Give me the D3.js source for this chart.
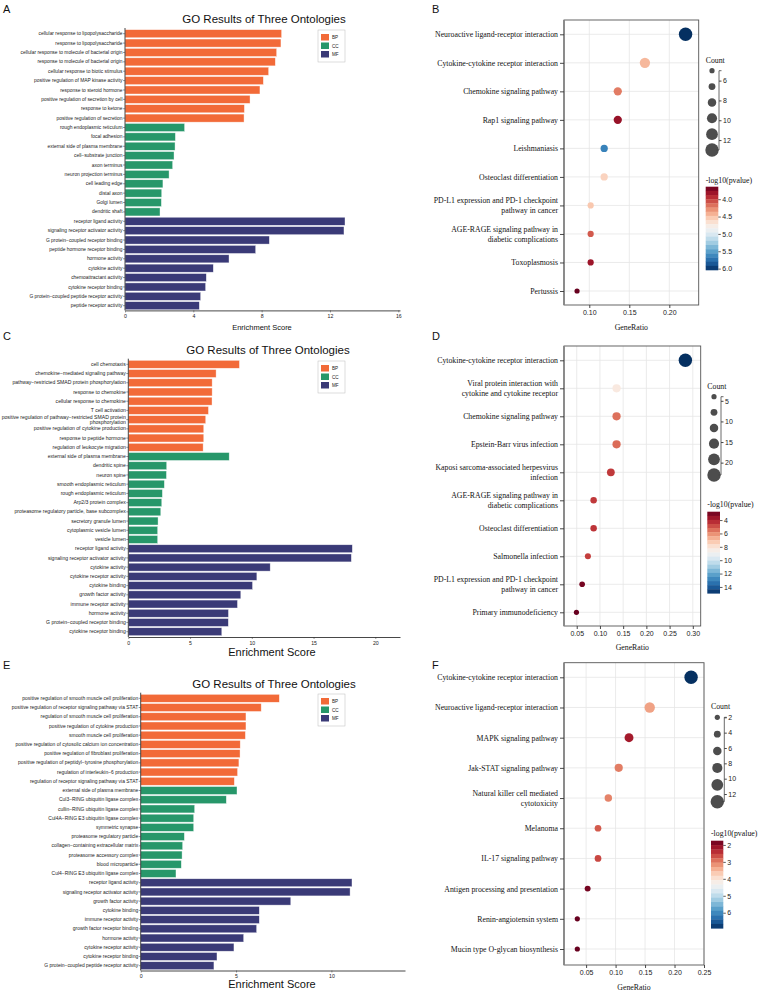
<!DOCTYPE html>
<html><head><meta charset="utf-8">
<script src="https://cdn.jsdelivr.net/npm/d3@7"></script>
<style>body{margin:0;background:#fff}svg{display:block}</style>
</head><body>
<svg id="c" width="760" height="992"></svg>
<script>
// ---------------- DATA ----------------
const ontologyNames = ["BP", "CC", "MF"];
const barTitle = "GO Results of Three Ontologies";

const termsA = [
 "cellular response to lipopolysaccharide","response to lipopolysaccharide","cellular response to molecule of bacterial origin","response to molecule of bacterial origin","cellular response to biotic stimulus","positive regulation of MAP kinase activity","response to steroid hormone","positive regulation of secretion by cell","response to ketone","positive regulation of secretion",
 "rough endoplasmic reticulum","focal adhesion","external side of plasma membrane","cell\u2212substrate junction","axon terminus","neuron projection terminus","cell leading edge","distal axon","Golgi lumen","dendritic shaft",
 "receptor ligand activity","signaling receptor activator activity","G protein\u2212coupled receptor binding","peptide hormone receptor binding","hormone activity","cytokine activity","chemoattractant activity","cytokine receptor binding","G protein\u2212coupled peptide receptor activity","peptide receptor activity"];
const scoresA = [9.17,9.13,8.88,8.80,8.41,8.10,7.90,7.32,6.99,6.97, 3.49,2.95,2.93,2.87,2.79,2.58,2.22,2.15,2.13,2.05, 12.88,12.82,8.45,7.65,6.09,5.17,4.76,4.72,4.43,4.35];
const ontA = ["BP","BP","BP","BP","BP","BP","BP","BP","BP","BP","CC","CC","CC","CC","CC","CC","CC","CC","CC","CC","MF","MF","MF","MF","MF","MF","MF","MF","MF","MF"];

const termsC = [
 "cell chemotaxis","chemokine\u2212mediated signaling pathway","pathway\u2212restricted SMAD protein phosphorylation","response to chemokine","cellular response to chemokine","T cell activation","positive regulation of pathway\u2212restricted SMAD protein\nphosphorylation","positive regulation of cytokine production","response to peptide hormone","regulation of leukocyte migration",
 "external side of plasma membrane","dendritic spine","neuron spine","smooth endoplasmic reticulum","rough endoplasmic reticulum","Arp2/3 protein complex","proteasome regulatory particle, base subcomplex","secretory granule lumen","cytoplasmic vesicle lumen","vesicle lumen",
 "receptor ligand activity","signaling receptor activator activity","cytokine activity","cytokine receptor activity","cytokine binding","growth factor activity","immune receptor activity","hormone activity","G protein\u2212coupled receptor binding","cytokine receptor binding"];
const scoresC = [9.00,7.11,6.79,6.79,6.78,6.49,6.27,6.11,6.11,6.06, 8.17,3.11,3.09,2.92,2.76,2.71,2.63,2.41,2.38,2.38, 18.14,18.06,11.49,10.41,10.06,9.11,8.84,8.11,8.10,7.57];
const ontC = ["BP","BP","BP","BP","BP","BP","BP","BP","BP","BP","CC","CC","CC","CC","CC","CC","CC","CC","CC","CC","MF","MF","MF","MF","MF","MF","MF","MF","MF","MF"];

const termsE = [
 "positive regulation of smooth muscle cell proliferation","positive regulation of receptor signaling pathway via STAT","regulation of smooth muscle cell proliferation","positive regulation of cytokine production","smooth muscle cell proliferation","positive regulation of cytosolic calcium ion concentration","positive regulation of fibroblast proliferation","positive regulation of peptidyl\u2212tyrosine phosphorylation","regulation of interleukin\u22126 production","regulation of receptor signaling pathway via STAT",
 "external side of plasma membrane","Cul3\u2212RING ubiquitin ligase complex","cullin\u2212RING ubiquitin ligase complex","Cul4A\u2212RING E3 ubiquitin ligase complex","symmetric synapse","proteasome regulatory particle","collagen\u2212containing extracellular matrix","proteasome accessory complex","blood microparticle","Cul4\u2212RING E3 ubiquitin ligase complex",
 "receptor ligand activity","signaling receptor activator activity","growth factor activity","cytokine binding","immune receptor activity","growth factor receptor binding","hormone activity","cytokine receptor activity","cytokine receptor binding","G protein\u2212coupled peptide receptor activity"];
const scoresE = [7.27,6.32,5.52,5.52,5.49,5.22,5.21,5.15,5.08,4.91, 5.05,4.49,2.83,2.78,2.78,2.29,2.20,2.17,2.13,1.85, 11.08,10.98,7.87,6.22,6.22,6.08,5.40,4.89,4.00,3.84];
const ontE = ["BP","BP","BP","BP","BP","BP","BP","BP","BP","BP","CC","CC","CC","CC","CC","CC","CC","CC","CC","CC","MF","MF","MF","MF","MF","MF","MF","MF","MF","MF"];

const ticksA = [0,4,8,12,16];
const ticksC = [0,5,10,15,20];
const ticksE = [0,5,10];

// KEGG dot plots
const pathwaysB = ["Neuroactive ligand-receptor interaction","Cytokine-cytokine receptor interaction","Chemokine signaling pathway","Rap1 signaling pathway","Leishmaniasis","Osteoclast differentiation","PD-L1 expression and PD-1 checkpoint\npathway in cancer","AGE-RAGE signaling pathway in\ndiabetic complications","Toxoplasmosis","Pertussis"];
const ratioB = [0.2203,0.1695,0.1356,0.1356,0.1186,0.1186,0.1017,0.1017,0.1017,0.0847];
const countB = [13,10,8,8,7,7,6,6,6,5];
const logpB = [6.04,4.45,4.22,3.80,5.65,4.58,4.52,4.10,3.82,3.64];
const countTicksB = [6,8,10,12];
const pTicksB = [4.0,4.5,5.0,5.5,6.0];
const ratioTicksB = [0.10,0.15,0.20];

const pathwaysD = ["Cytokine-cytokine receptor interaction","Viral protein interaction with\ncytokine and cytokine receptor","Chemokine signaling pathway","Epstein-Barr virus infection","Kaposi sarcoma-associated herpesvirus\ninfection","AGE-RAGE signaling pathway in\ndiabetic complications","Osteoclast differentiation","Salmonella infection","PD-L1 expression and PD-1 checkpoint\npathway in cancer","Primary immunodeficiency"];
const ratioD = [0.2840,0.1358,0.1358,0.1358,0.1235,0.0864,0.0864,0.0741,0.0617,0.0494];
const countD = [23,11,11,11,10,7,7,6,5,4];
const logpD = [14.95,8.3,5.5,5.4,4.5,4.5,4.4,4.6,3.0,2.75];
const countTicksD = [5,10,15,20];
const pTicksD = [4,6,8,10,12,14];
const ratioTicksD = [0.05,0.10,0.15,0.20,0.25,0.30];

const pathwaysF = ["Cytokine-cytokine receptor interaction","Neuroactive ligand-receptor interaction","MAPK signaling pathway","Jak-STAT signaling pathway","Natural killer cell mediated\ncytotoxicity","Melanoma","IL-17 signaling pathway","Antigen processing and presentation","Renin-angiotensin system","Mucin type O-glycan biosynthesis"];
const ratioF = [0.2281,0.1579,0.1228,0.1053,0.0877,0.0702,0.0702,0.0526,0.0351,0.0351];
const countF = [13,9,7,6,5,4,4,3,2,2];
const logpF = [6.92,3.30,2.20,3.00,3.05,2.75,2.60,1.85,1.75,1.75];
const countTicksF = [2,4,6,8,10,12];
const pTicksF = [2,3,4,5,6];
const ratioTicksF = [0.05,0.10,0.15,0.20,0.25];

// ---------------- DRAW ----------------
const svg = d3.select("#c");
const SANS = "'Liberation Sans', Arial, sans-serif";
const SERIF = "'Liberation Serif', 'Times New Roman', serif";
const ontColor = d3.scaleOrdinal().domain(ontologyNames).range(["#f26a38", "#27976a", "#3a3a77"]);

function panelLetter(t, x, y) {
  svg.append("text").attr("x", x).attr("y", y).text(t)
    .style("font-family", SANS).style("font-size", "11px").attr("fill", "#111");
}

function barPanel(cfg, terms, scores, onts, ticks) {
  const g = svg.append("g");
  const n = terms.length;
  const step = (cfg.lastC - cfg.firstC) / (n - 1);
  const y = d3.scaleBand().domain(d3.range(n))
    .range([cfg.firstC - step / 2, cfg.lastC + step / 2]).paddingInner(0.14).paddingOuter(0.07);
  const x = d3.scaleLinear().domain([0, cfg.xmax]).range([cfg.ax, cfg.axEnd]);

  g.selectAll("rect.bar").data(scores).join("rect").attr("class", "bar")
    .attr("x", x(0)).attr("y", (d, i) => y(i)).attr("height", y.bandwidth())
    .attr("width", d => x(d) - x(0))
    .attr("fill", (d, i) => ontColor(onts[i]))
    .attr("stroke", "rgba(255,255,255,0.65)").attr("stroke-width", 0.6);

  const ya = g.append("g").attr("transform", `translate(${x(0)},0)`)
    .call(d3.axisLeft(y).tickFormat(i => terms[i]).tickSize(2).tickSizeOuter(0));
  ya.select(".domain").attr("stroke", "#333").attr("stroke-width", 0.9)
    .attr("d", `M0,${y.range()[0] - 1}V${cfg.axisY}`);
  ya.selectAll(".tick line").attr("stroke", "#333").attr("stroke-width", 0.5);
  ya.selectAll(".tick text").style("font-family", SANS).style("font-size", cfg.lab + "px")
    .attr("fill", "#222").attr("x", -2.5)
    .each(function (i) {
      const parts = terms[i].split("\n");
      if (parts.length > 1) {
        const t = d3.select(this).text(null);
        parts.forEach((p, k) => t.append("tspan").attr("x", -2.5)
          .attr("dy", k === 0 ? (-(parts.length - 1) * 0.5 + 0.32) + "em" : "1em").text(p));
        t.attr("dy", null);
      }
    });

  const xa = g.append("g").attr("transform", `translate(0,${cfg.axisY})`)
    .call(d3.axisBottom(x).tickValues(ticks).tickSize(2).tickSizeOuter(0).tickFormat(d3.format("d")));
  xa.select(".domain").attr("stroke", "#333").attr("stroke-width", 0.9);
  xa.selectAll(".tick line").attr("stroke", "#333").attr("stroke-width", 0.5);
  xa.selectAll(".tick text").style("font-family", SANS).style("font-size", "5.2px").attr("fill", "#222").attr("y", 4);

  g.append("text").attr("x", cfg.titleX).attr("y", cfg.titleY).attr("text-anchor", "middle")
    .text(barTitle).style("font-family", SANS).style("font-size", "11.5px").attr("fill", "#111");
  g.append("text").attr("x", cfg.scoreX).attr("y", cfg.scoreY).attr("text-anchor", "middle")
    .text("Enrichment Score").style("font-family", SANS).style("font-size", cfg.scoreFs + "px").attr("fill", "#111");

  // legend
  const lg = g.append("g").attr("transform", `translate(${cfg.legX},${cfg.legY})`);
  lg.append("rect").attr("width", 27).attr("height", 32).attr("fill", "#fff")
    .attr("stroke", "#bbb").attr("stroke-width", 0.5);
  ontologyNames.forEach((o, k) => {
    lg.append("rect").attr("x", 3).attr("y", 4 + k * 8.5).attr("width", 8).attr("height", 6.5)
      .attr("fill", ontColor(o));
    lg.append("text").attr("x", 14).attr("y", 9.3 + k * 8.5).text(o)
      .style("font-family", SANS).style("font-size", "4.6px").attr("fill", "#222");
  });
}

function dotPanel(cfg, paths, ratios, counts, logps, countTicks, pTicks, ratioTicks, fmt) {
  const g = svg.append("g");
  const x = d3.scaleLinear().domain(cfg.xdom).range([cfg.left, cfg.right]);
  const y = d3.scalePoint().domain(d3.range(paths.length)).range([cfg.firstC, cfg.lastC]);
  const cdom = d3.extent(counts);
  const r = d3.scaleLinear().domain(cdom).range([2.6, 6.7]);
  const col = d3.scaleSequential(d3.interpolateRdBu).domain(cfg.pdom);

  // grid
  g.selectAll("line.vg").data(ratioTicks).join("line").attr("class", "vg")
    .attr("x1", d => x(d)).attr("x2", d => x(d)).attr("y1", cfg.top).attr("y2", cfg.bottom)
    .attr("stroke", "#e6e6e6").attr("stroke-width", 0.8);
  g.selectAll("line.hg").data(paths).join("line").attr("class", "hg")
    .attr("x1", cfg.left).attr("x2", cfg.right).attr("y1", (d, i) => y(i)).attr("y2", (d, i) => y(i))
    .attr("stroke", "#e6e6e6").attr("stroke-width", 0.8);

  // box
  g.append("rect").attr("x", cfg.left).attr("y", cfg.top).attr("width", cfg.right - cfg.left)
    .attr("height", cfg.bottom - cfg.top).attr("fill", "none").attr("stroke", "#555").attr("stroke-width", 0.9);
  g.append("line").attr("x1", cfg.left).attr("x2", cfg.left).attr("y1", cfg.top).attr("y2", cfg.bottom)
    .attr("stroke", "#888").attr("stroke-width", 1.8);

  // points
  g.selectAll("circle.pt").data(ratios).join("circle").attr("class", "pt")
    .attr("cx", d => x(d)).attr("cy", (d, i) => y(i)).attr("r", (d, i) => r(counts[i]))
    .attr("fill", (d, i) => col(logps[i]));

  // axes
  const ya = g.append("g").attr("transform", `translate(${cfg.left},0)`)
    .call(d3.axisLeft(y).tickFormat(i => paths[i]).tickSize(4).tickSizeOuter(0));
  ya.select(".domain").remove();
  ya.selectAll(".tick line").attr("stroke", "#333").attr("stroke-width", 0.9);
  ya.selectAll(".tick text").style("font-family", SERIF).style("font-size", "7.8px")
    .attr("fill", "#111").attr("x", -6)
    .each(function (i) {
      const parts = paths[i].split("\n");
      if (parts.length > 1) {
        const t = d3.select(this).text(null).attr("dy", null);
        parts.forEach((p, k) => t.append("tspan").attr("x", -6)
          .attr("dy", k === 0 ? "-0.32em" : "1.28em").text(p));
      }
    });
  const xa = g.append("g").attr("transform", `translate(0,${cfg.bottom})`)
    .call(d3.axisBottom(x).tickValues(ratioTicks).tickSize(3).tickSizeOuter(0).tickFormat(d3.format(".2f")));
  xa.select(".domain").remove();
  xa.selectAll(".tick line").attr("stroke", "#333").attr("stroke-width", 0.9);
  xa.selectAll(".tick text").style("font-family", SANS).style("font-size", "7px").attr("fill", "#222").attr("y", 5);
  g.append("text").attr("x", (cfg.left + cfg.right) / 2).attr("y", cfg.grY).attr("text-anchor", "middle")
    .text("GeneRatio").style("font-family", SERIF).style("font-size", "7.8px").attr("fill", "#111");

  // size legend
  const sl = cfg.size;
  g.append("text").attr("x", sl.tx).attr("y", sl.ty).text("Count")
    .style("font-family", SERIF).style("font-size", "7.8px").attr("fill", "#111");
  const sy = d3.scaleLinear().domain(cdom).range([sl.y0, sl.y1]);
  const legCounts = d3.range(6).map(k => cdom[0] + (cdom[1] - cdom[0]) * k / 5);
  g.selectAll("circle.lg").data(legCounts).join("circle").attr("class", "lg")
    .attr("cx", sl.cx).attr("cy", d => sy(d)).attr("r", d => r(d)).attr("fill", "#4d4d4d");
  const sa = g.append("g").attr("transform", `translate(${sl.bx},0)`)
    .call(d3.axisRight(sy).tickValues(countTicks).tickSize(2.5).tickSizeOuter(2.5));
  sa.select(".domain").attr("stroke", "#444").attr("stroke-width", 0.8)
    .attr("d", `M2.5,${sy.range()[0]}H0V${sy.range()[1]}H-2.5`);
  sa.selectAll(".tick line").attr("stroke", "#444");
  sa.selectAll(".tick text").style("font-family", SANS).style("font-size", "7px").attr("fill", "#222").attr("x", 4);

  // colour legend
  const cl = cfg.color;
  g.append("text").attr("x", cl.tx).attr("y", cl.ty).text("-log10(pvalue)")
    .style("font-family", SERIF).style("font-size", "7.8px").attr("fill", "#111");
  const cy = d3.scaleLinear().domain(cfg.pdom).range([cl.y0, cl.y1]);
  const nb = 20;
  const bands = d3.range(nb).map(k => cfg.pdom[0] + (cfg.pdom[1] - cfg.pdom[0]) * (k + 0.5) / nb);
  const bh = (cl.y1 - cl.y0) / nb;
  g.selectAll("rect.cb").data(bands).join("rect").attr("class", "cb")
    .attr("x", cl.x0).attr("width", cl.x1 - cl.x0)
    .attr("y", d => cy(d) - bh / 2).attr("height", bh + 0.3).attr("fill", d => col(d));
  const ca = g.append("g").attr("transform", `translate(${cl.x1},0)`)
    .call(d3.axisRight(cy).tickValues(pTicks).tickSize(2.5).tickSizeOuter(0).tickFormat(d3.format(fmt)));
  ca.select(".domain").remove();
  ca.selectAll(".tick line").attr("stroke", "#333").attr("stroke-width", 0.8);
  ca.selectAll(".tick text").style("font-family", SANS).style("font-size", "7px").attr("fill", "#222").attr("x", 4);
}

// Panels A, C, E
panelLetter("A", 3, 13);
barPanel({firstC: 33.7, lastC: 305.7, ax: 125, axEnd: 400, xmax: 16.1, axisY: 310.4, lab: 4.9,
  titleX: 264, titleY: 23, scoreX: 262, scoreY: 330, scoreFs: 7.5, legX: 318, legY: 30},
  termsA, scoresA, ontA, ticksA);

panelLetter("C", 3, 340);
barPanel({firstC: 364.3, lastC: 631.7, ax: 128.3, axEnd: 400, xmax: 22, axisY: 637, lab: 5.1,
  titleX: 268, titleY: 354, scoreX: 272, scoreY: 656, scoreFs: 11, legX: 318, legY: 361},
  termsC, scoresC, ontC, ticksC);

panelLetter("E", 3, 669);
barPanel({firstC: 698.3, lastC: 965.7, ax: 140.7, axEnd: 405, xmax: 13.86, axisY: 970.5, lab: 4.95,
  titleX: 274, titleY: 688, scoreX: 272, scoreY: 988, scoreFs: 11, legX: 318, legY: 694},
  termsE, scoresE, ontE, ticksE);

// Panels B, D, F
panelLetter("B", 432, 13);
dotPanel({left: 564, right: 698.7, top: 20, bottom: 305, xdom: [0.0684, 0.2367], firstC: 34.3, lastC: 291,
  pdom: [3.64, 6.04], grY: 330,
  size: {tx: 705.7, ty: 63, cx: 712, y0: 70.7, y1: 150, bx: 719},
  color: {tx: 705.7, ty: 182.7, x0: 705.7, x1: 718.3, y0: 186.7, y1: 270}},
  pathwaysB, ratioB, countB, logpB, countTicksB, pTicksB, ratioTicksB, ".1f");

panelLetter("D", 432, 340);
dotPanel({left: 564, right: 700.7, top: 346, bottom: 626, xdom: [0.0226, 0.317], firstC: 360.3, lastC: 612.3,
  pdom: [2.75, 14.95], grY: 650,
  size: {tx: 707.3, ty: 389, cx: 714, y0: 396.7, y1: 475, bx: 721},
  color: {tx: 707.3, ty: 506.7, x0: 707.3, x1: 720, y0: 511.7, y1: 593.3}},
  pathwaysD, ratioD, countD, logpD, countTicksD, pTicksD, ratioTicksD, "d");

panelLetter("F", 432, 669);
dotPanel({left: 564, right: 704, top: 662.7, bottom: 965, xdom: [0.0125, 0.25], firstC: 677.3, lastC: 949,
  pdom: [1.75, 6.92], grY: 990,
  size: {tx: 711, ty: 708.7, cx: 717.3, y0: 717.3, y1: 801.7, bx: 724.3},
  color: {tx: 711, ty: 835.7, x0: 711, x1: 723.3, y0: 840.7, y1: 928.3}},
  pathwaysF, ratioF, countF, logpF, countTicksF, pTicksF, ratioTicksF, "d");
</script>
</body></html>
